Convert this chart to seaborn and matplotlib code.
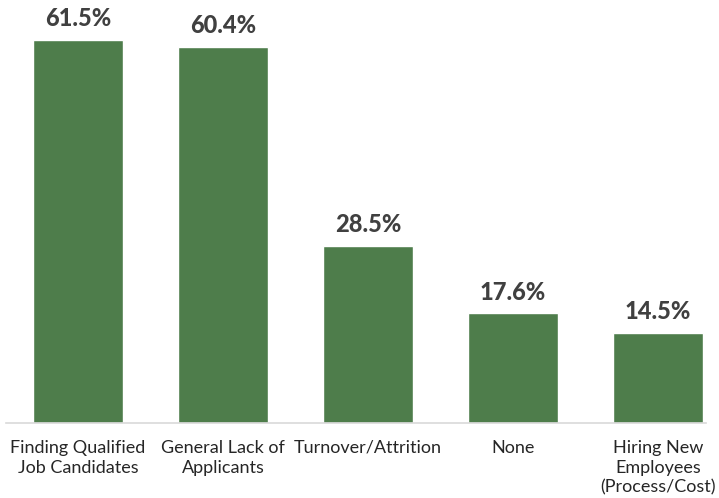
import pandas as pd
import matplotlib.pyplot as plt
import seaborn as sns

# chart data
categories = [
    "Finding Qualified\nJob Candidates",
    "General Lack of\nApplicants",
    "Turnover/Attrition",
    "None",
    "Hiring New\nEmployees\n(Process/Cost)",
]
shares = [61.5, 60.4, 28.5, 17.6, 14.5]

BAR_COLOR = "#4E7D4B"
TEXT_COLOR = "#404040"


def main():
    df = pd.DataFrame({"category": categories, "share": shares})

    sns.set_style("white")
    plt.rcParams["font.family"] = ["Lato", "DejaVu Sans"]

    fig = plt.figure(figsize=(7.19, 4.98), dpi=100)
    # place the plot area by hand so the bars land where the reference has them
    ax = fig.add_axes([5.5 / 719, 75 / 498, 700.5 / 719, 404.8 / 498])

    sns.barplot(data=df, x="category", y="share", color=BAR_COLOR,
                width=0.62, saturation=1, ax=ax)

    ax.set_xlim(-0.5, 4.33)
    ax.set_ylim(0, 65)

    for i, v in enumerate(shares):
        ax.annotate(f"{v:.1f}%", (i, v), xytext=(0, 7), textcoords="offset points",
                    ha="center", va="bottom", fontsize=17, fontweight="black",
                    color=TEXT_COLOR)

    ax.set_xlabel("")
    ax.set_ylabel("")
    ax.set_yticks([])
    ax.tick_params(axis="x", length=0, pad=12, labelsize=13, colors="#262626")
    for lbl in ax.get_xticklabels():
        lbl.set_linespacing(1.3)

    for side in ["top", "right", "left"]:
        ax.spines[side].set_visible(False)
    ax.spines["bottom"].set_color("#d9d9d9")
    ax.spines["bottom"].set_linewidth(1.2)

    fig.savefig("out.png", dpi=100)


if __name__ == "__main__":
    main()
